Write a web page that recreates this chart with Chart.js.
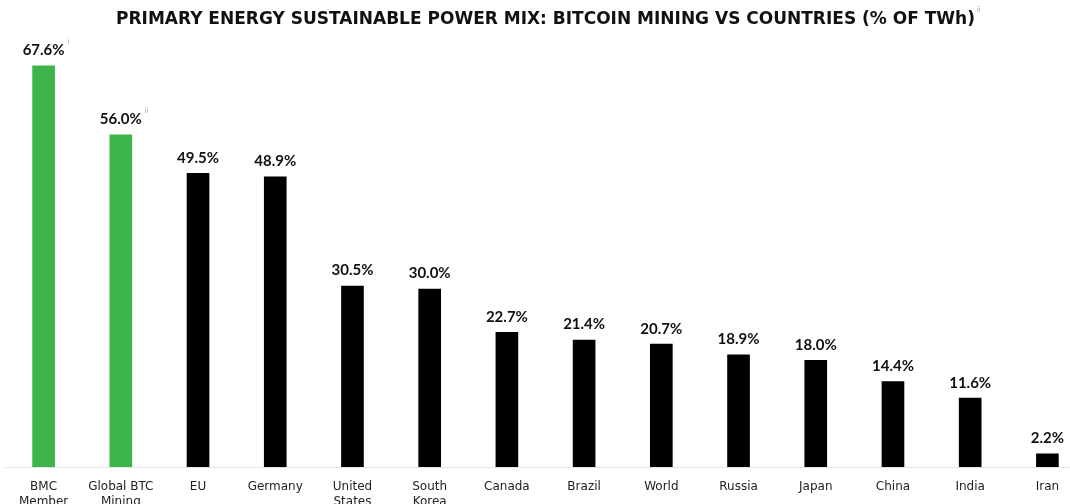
<!DOCTYPE html>
<html>
<head>
<meta charset="utf-8">
<script src="https://cdn.jsdelivr.net/npm/chart.js@4.4.0/dist/chart.umd.min.js"></script>
<style>
  html, body { margin: 0; padding: 0; background: #fff; overflow: hidden; }
  #wrap { position: absolute; left: 0; top: 0; width: 1092px; height: 504px; }
</style>
</head>
<body>
<div id="wrap"><canvas id="mixChart"></canvas></div>
<script>
// categories and values
const categories = [
  ['BMC', 'Member'], ['Global BTC', 'Mining'], 'EU', 'Germany', ['United', 'States'],
  ['South', 'Korea'], 'Canada', 'Brazil', 'World', 'Russia', 'Japan', 'China', 'India', 'Iran'
];
const sustainableShare = [67.6, 56.0, 49.5, 48.9, 30.5, 30.0, 22.7, 21.4, 20.7, 18.9, 18.0, 14.4, 11.6, 2.2];
const footnotes = ['i', 'ii', '', '', '', '', '', '', '', '', '', '', '', ''];
const barColors = sustainableShare.map((v, i) => i < 2 ? '#3db54a' : '#000000');

const FONT = 'Lato, "Open Sans", sans-serif';
const WIDE = '"DejaVu Sans", sans-serif';

// value labels above each bar
const valueLabels = {
  id: 'valueLabels',
  afterDatasetsDraw(chart) {
    const ctx = chart.ctx;
    const meta = chart.getDatasetMeta(0);
    ctx.save();
    ctx.textAlign = 'center';
    ctx.textBaseline = 'bottom';
    meta.data.forEach((bar, i) => {
      const txt = sustainableShare[i].toFixed(1) + '%';
      ctx.font = 'bold 15px ' + FONT;
      ctx.fillStyle = '#111';
      ctx.fillText(txt, bar.x, bar.y - 8);
      if (footnotes[i]) {
        const w = ctx.measureText(txt).width;
        ctx.font = '7px ' + FONT;
        ctx.fillStyle = '#9aa7b8';
        ctx.textAlign = 'left';
        ctx.fillText(footnotes[i], bar.x + w / 2 + 3, bar.y - 21);
        ctx.textAlign = 'center';
      }
    });
    // footnote mark after the title
    ctx.font = '7px ' + FONT;
    ctx.fillStyle = '#9aa7b8';
    ctx.textAlign = 'left';
    ctx.fillText('ii', 977, 13);
    ctx.restore();
  }
};

window.onload = function () {
  const ctx = document.getElementById('mixChart').getContext('2d');
  new Chart(ctx, {
    type: 'bar',
    data: {
      labels: categories,
      datasets: [{
        data: sustainableShare,
        backgroundColor: barColors,
        barThickness: 22
      }]
    },
    options: {
      responsive: true,
      maintainAspectRatio: false,
      animation: false,
      layout: { padding: { left: 5, right: 6 } },
      plugins: {
        legend: { display: false },
        tooltip: { enabled: false },
        title: {
          display: true,
          text: 'PRIMARY ENERGY SUSTAINABLE POWER MIX: BITCOIN MINING VS COUNTRIES (% OF TWh)',
          color: '#111',
          font: { family: WIDE, size: 17, weight: 'bold', lineHeight: 1.1 },
          padding: { top: 10, bottom: 23 }
        }
      },
      scales: {
        x: {
          grid: { display: false },
          border: { color: '#e4e4e4', width: 1 },
          ticks: {
            color: '#222',
            font: { family: WIDE, size: 12 },
            padding: 5,
            maxRotation: 0,
            autoSkip: false
          },
          afterFit(scale) { scale.height = 37; }
        },
        y: {
          display: false,
          min: 0,
          max: 70
        }
      }
    },
    plugins: [valueLabels]
  });
};
</script>
</body>
</html>
